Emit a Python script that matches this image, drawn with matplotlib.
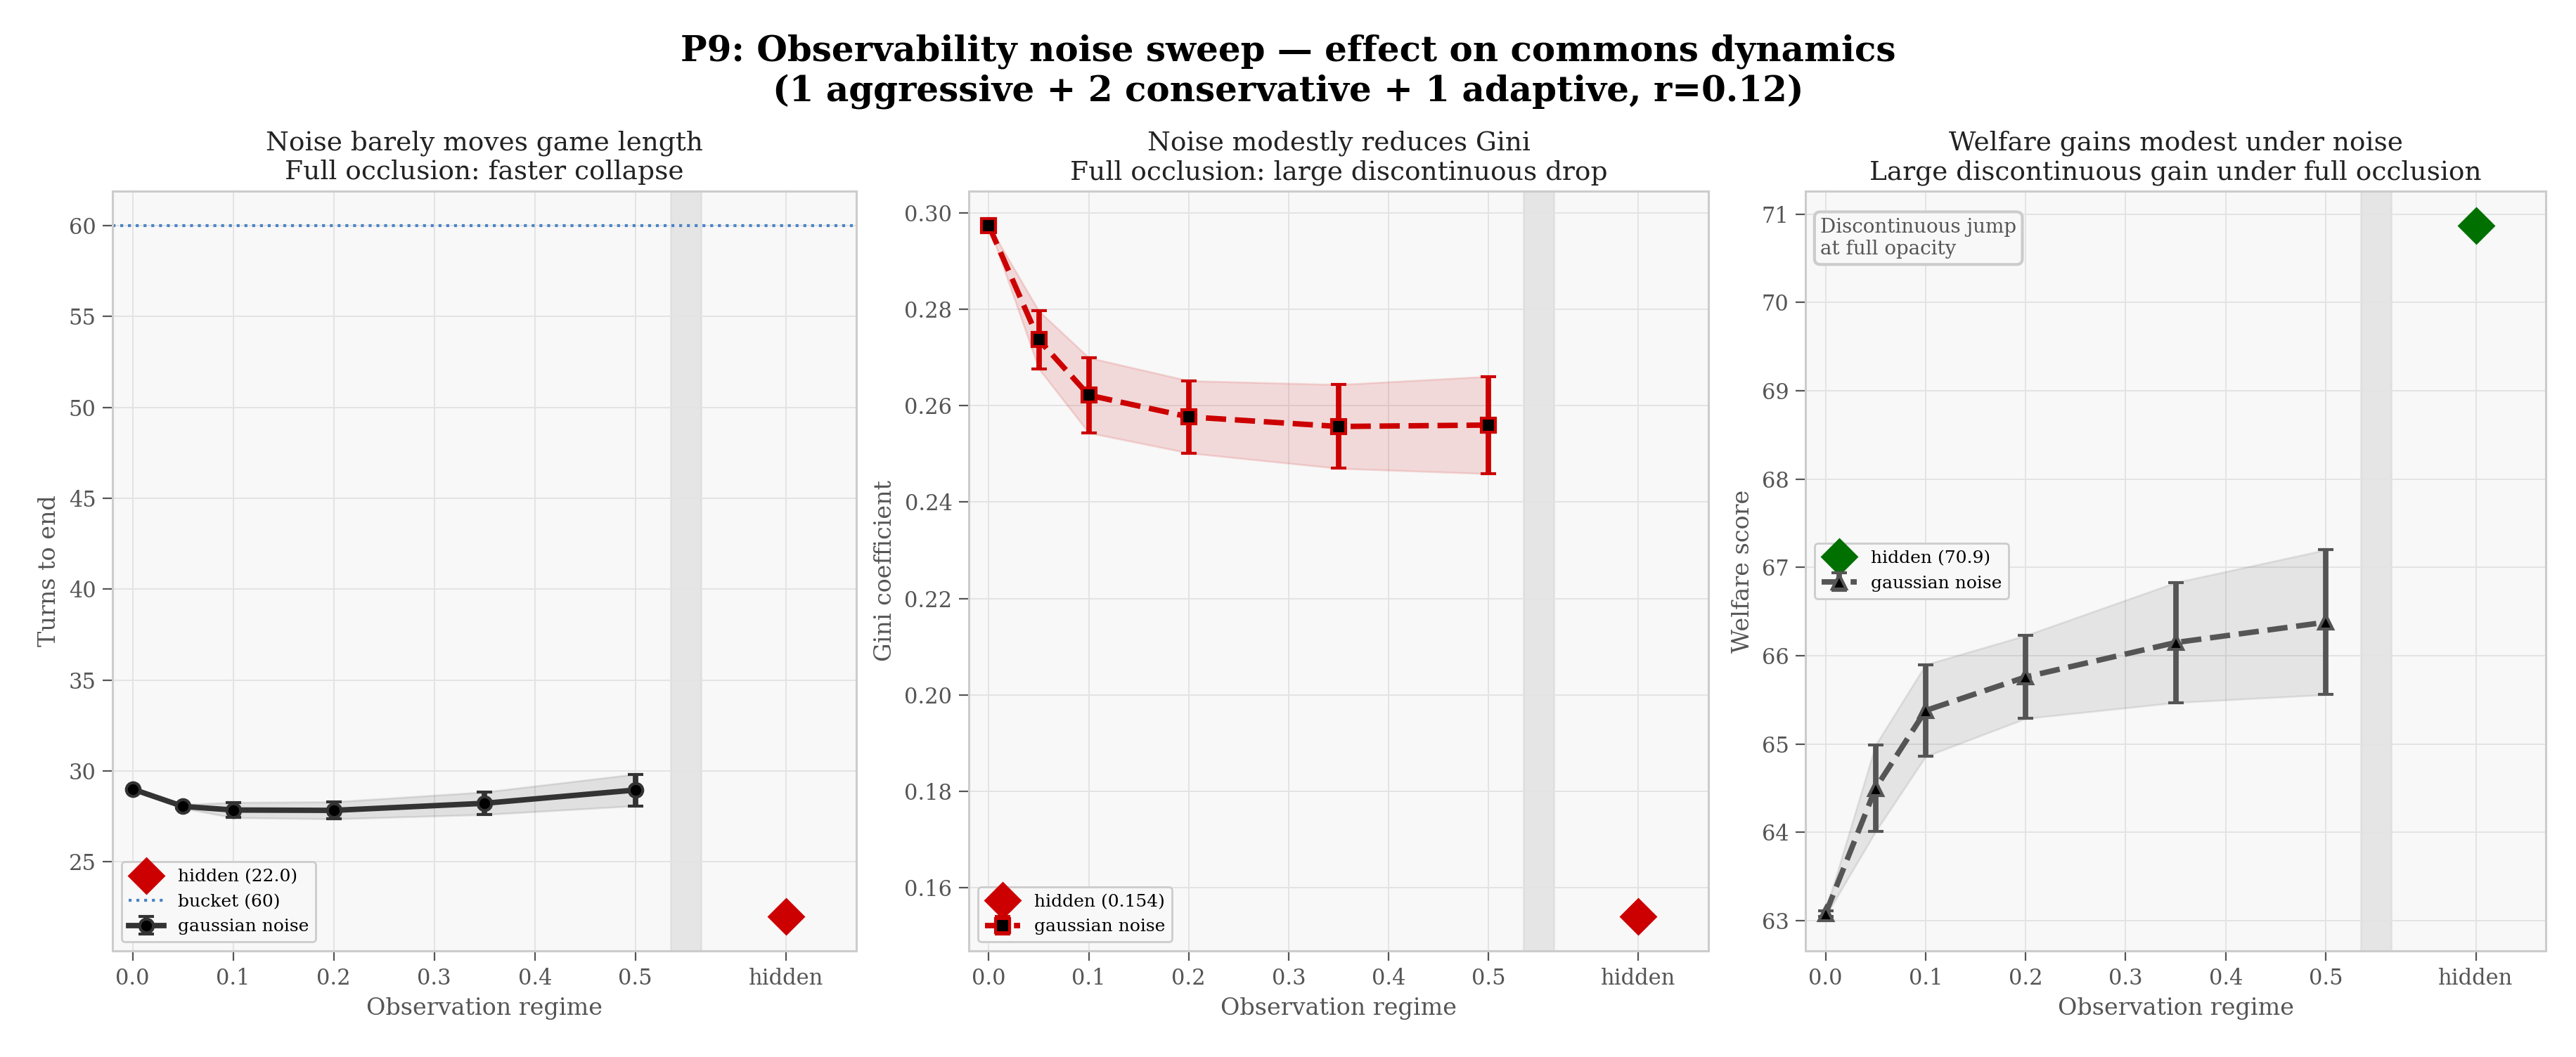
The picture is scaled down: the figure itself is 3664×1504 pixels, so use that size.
import matplotlib
matplotlib.use("Agg")
import matplotlib.pyplot as plt

# observation regimes (noise sigma), the "hidden" regime sits at a fake x position
regimes = [0.0, 0.05, 0.1, 0.2, 0.35, 0.5]
hidden_x = 0.65
xtick_pos = [0.0, 0.1, 0.2, 0.3, 0.4, 0.5, 0.65]
xtick_labels = ["0.0", "0.1", "0.2", "0.3", "0.4", "0.5", "hidden"]

turns_mean = [29.0, 28.05, 27.85, 27.83, 28.22, 28.95]
turns_std = [0.0, 0.1, 0.42, 0.47, 0.62, 0.87]
turns_hidden = 22.0
bucket_turns = 60

gini_mean = [0.2974, 0.2737, 0.2622, 0.2577, 0.2557, 0.2560]
gini_std = [0.0, 0.0060, 0.0078, 0.0075, 0.0087, 0.0101]
gini_hidden = 0.154

welfare_mean = [63.08, 64.50, 65.38, 65.76, 66.15, 66.38]
welfare_std = [0.03, 0.49, 0.52, 0.47, 0.68, 0.82]
welfare_hidden = 70.87

plt.rcParams['font.family'] = ['DejaVu Serif']
plt.rcParams['axes.facecolor'] = '#f8f8f8'
plt.rcParams['axes.edgecolor'] = '#cccccc'
plt.rcParams['axes.linewidth'] = 1.1
plt.rcParams['xtick.color'] = '#555555'
plt.rcParams['ytick.color'] = '#555555'
plt.rcParams['xtick.labelsize'] = 11
plt.rcParams['ytick.labelsize'] = 11
plt.rcParams['xtick.major.size'] = 5
plt.rcParams['ytick.major.size'] = 5
plt.rcParams['axes.labelcolor'] = '#555555'
plt.rcParams['axes.labelsize'] = 12
plt.rcParams['axes.titlesize'] = 13.5
plt.rcParams['axes.titlecolor'] = '#222222'
plt.rcParams['legend.fontsize'] = 9


def style_axis(ax, ylabel):
    ax.grid(True, color='#e3e3e3', linewidth=0.7)
    ax.set_axisbelow(True)
    ax.axvspan(0.535, 0.565, color='#d4d4d4', alpha=0.5, zorder=0.5)
    ax.set_xticks(xtick_pos)
    ax.set_xticklabels(xtick_labels)
    ax.set_xlim(-0.02, 0.72)
    ax.set_xlabel("Observation regime")
    ax.set_ylabel(ylabel)


def noise_series(ax, mean, std, color, fmt):
    lo = [m - s for m, s in zip(mean, std)]
    hi = [m + s for m, s in zip(mean, std)]
    ax.fill_between(regimes, lo, hi, color=color, alpha=0.12, zorder=1)
    eb = ax.errorbar(regimes, mean, yerr=std, fmt=fmt, color=color, lw=2.8,
                     ms=7, mfc='black', mec=color, mew=1.5, capsize=4,
                     label="gaussian noise", zorder=3)
    return eb


fig, axes = plt.subplots(1, 3, figsize=(18.32, 7.52), dpi=200)
axes[0].set_position([0.0437, 0.1004, 0.2888, 0.7188])
axes[1].set_position([0.3761, 0.1004, 0.2871, 0.7188])
axes[2].set_position([0.7009, 0.1004, 0.2874, 0.7188])

legend_kw = dict(facecolor='#f8f8f8', edgecolor='#cccccc', framealpha=1)

# panel 1: game length
ax = axes[0]
style_axis(ax, "Turns to end")
h_hid, = ax.plot([hidden_x], [turns_hidden], 'D', color='#cc0000', ms=12.5,
                 label=f"hidden ({turns_hidden:.1f})", zorder=4)
h_bucket = ax.axhline(bucket_turns, color='#4a84c4', ls=':', lw=1.5,
                      label=f"bucket ({bucket_turns})")
eb = noise_series(ax, turns_mean, turns_std, '#333333', 'o-')
ax.legend(handles=[h_hid, h_bucket, eb], loc='lower left', **legend_kw)
ax.set_title("Noise barely moves game length\nFull occlusion: faster collapse")

# panel 2: gini
ax = axes[1]
style_axis(ax, "Gini coefficient")
h_hid, = ax.plot([hidden_x], [gini_hidden], 'D', color='#cc0000', ms=12.5,
                 label=f"hidden ({gini_hidden:.3f})", zorder=4)
eb = noise_series(ax, gini_mean, gini_std, '#cc0000', 's--')
ax.legend(handles=[h_hid, eb], loc='lower left', **legend_kw)
ax.set_title("Noise modestly reduces Gini\nFull occlusion: large discontinuous drop")

# panel 3: welfare
ax = axes[2]
style_axis(ax, "Welfare score")
h_hid, = ax.plot([hidden_x], [welfare_hidden], 'D', color='#007000', ms=12.5,
                 label=f"hidden ({welfare_hidden:.1f})", zorder=4)
eb = noise_series(ax, welfare_mean, welfare_std, '#555555', '^--')
ax.legend(handles=[h_hid, eb], loc='center left', **legend_kw)
ax.text(0.02, 0.965, "Discontinuous jump\nat full opacity", transform=ax.transAxes,
        ha='left', va='top', fontsize=10, color='#555555',
        bbox=dict(boxstyle='round,pad=0.3', facecolor='#f8f8f8', edgecolor='#cccccc', lw=1.5))
ax.set_title("Welfare gains modest under noise\nLarge discontinuous gain under full occlusion")

fig.suptitle("P9: Observability noise sweep \u2014 effect on commons dynamics\n"
             "(1 aggressive + 2 conservative + 1 adaptive, r=0.12)",
             fontsize=18, fontweight='bold', y=0.968, va='top')

fig.savefig("out.png", dpi=200)
